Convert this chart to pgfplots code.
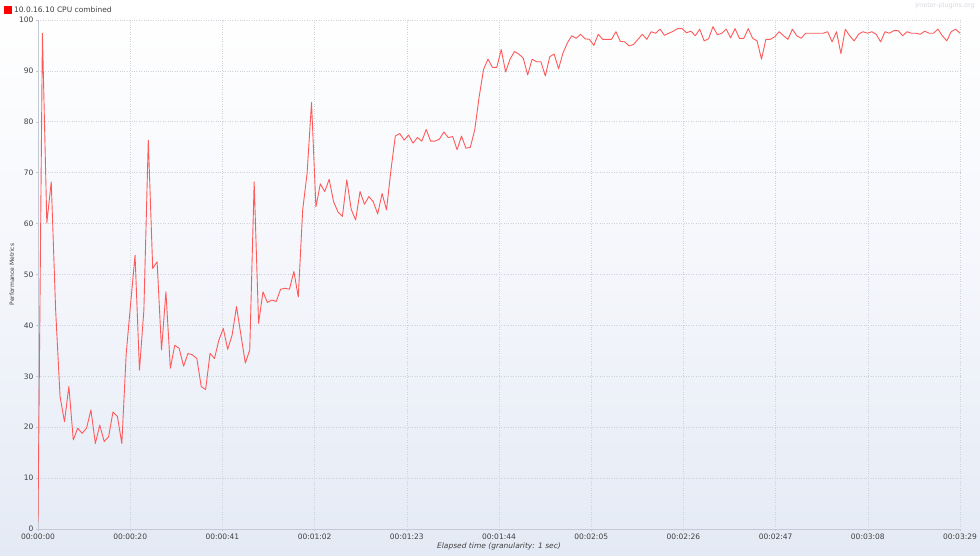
\documentclass[border=0pt]{standalone}
\usepackage{pgfplots}
\pgfplotsset{compat=1.18}
\usepackage{fontspec}
\setmainfont{DejaVu Sans}
\definecolor{cpuline}{RGB}{255,90,90}
\definecolor{bgbottom}{RGB}{228,234,245}
\definecolor{gridc}{RGB}{205,209,218}
\definecolor{axc}{RGB}{196,202,212}
\definecolor{txt}{RGB}{64,64,64}
\begin{document}
\begin{tikzpicture}[x=1pt,y=1pt]
\shade[top color=white, bottom color=bgbottom, middle color={rgb,255:red,244;green,246;blue,251}] (0,0) rectangle (980,555);
\path[use as bounding box] (0,0) rectangle (980,555);
\node[anchor=north east, font=\fontsize{6.5}{7}\selectfont, text={rgb,255:red,215;green,218;blue,225}, inner sep=0] at (975,553) {jmeter-plugins.org};
\begin{axis}[
    at={(38pt,26pt)}, anchor=south west,
    scale only axis, width=922pt, height=509pt,
    xmin=0, xmax=209, ymin=0, ymax=100,
    axis x line*=bottom, axis y line*=left,
    axis line style={axc, -},
    xtick={0,20.9,41.8,62.7,83.6,104.5,125.4,146.3,167.2,188.1,209},
    xticklabels={00:00:00,00:00:20,00:00:41,00:01:02,00:01:23,00:01:44,00:02:05,00:02:26,00:02:47,00:03:08,00:03:29},
    ytick={0,10,...,100},
    tick style={axc, thin}, tick align=outside, major tick length=2pt,
    grid=major, major grid style={gridc, dotted, line width=0.6pt},
    ticklabel style={font=\fontsize{7.5}{8}\selectfont, text=txt},
    /pgf/number format/assume math mode=true,
    yticklabel style={xshift=1pt},
    xticklabel style={yshift=1pt},
    xlabel={\itshape Elapsed time (granularity: 1 sec)},
    xlabel style={at={(axis description cs:0.5,-0.0334)}, anchor=center, font=\fontsize{7.5}{8}\selectfont, text=txt},
    ylabel={Performance Metrics},
    ylabel style={at={(axis description cs:-0.0282,0.5)}, anchor=center, font=\fontsize{6}{7}\selectfont, text=txt},
    legend style={at={(axis description cs:-0.0369,1.031)}, anchor=north west, draw=none, fill=none, inner sep=0pt, font=\fontsize{7.5}{8}\selectfont, text=txt, legend cell align=left},
    legend image code/.code={\fill[red] (0pt,-3.5pt) rectangle (7pt,3.5pt);},
]
\addplot[cpuline, line width=0.9pt, mark=none, line join=round] table {
t v
0 1.4
1 97.4
2 60.1
3 68.2
4 43
5 26
6 21.1
7 28
8 17.5
9 19.8
10 18.8
11 19.8
12 23.4
13 16.8
14 20.4
15 17.2
16 18.1
17 23
18 22.1
19 16.8
20 34.5
21 44.3
22 53.8
23 31.2
24 43
25 76.4
26 51.2
27 52.5
28 35.2
29 46.6
30 31.6
31 36.1
32 35.5
33 32
34 34.5
35 34.2
36 33.5
37 28
38 27.4
39 34.5
40 33.5
41 37.1
42 39.4
43 35.3
44 38.1
45 43.7
46 38.1
47 32.6
48 35.2
49 68.2
50 40.4
51 46.6
52 44.5
53 45
54 44.7
55 47.1
56 47.3
57 47.1
58 50.6
59 45.6
60 62.7
61 69.9
62 83.8
63 63.3
64 67.8
65 66.3
66 68.7
67 64.3
68 62.3
69 61.4
70 68.6
71 62.8
72 60.7
73 66.3
74 63.8
75 65.3
76 64.3
77 61.9
78 65.9
79 62.7
80 70.5
81 77.2
82 77.7
83 76.4
84 77.4
85 75.8
86 76.9
87 76.2
88 78.5
89 76.2
90 76.2
91 76.6
92 78
93 76.9
94 77.1
95 74.5
96 77.2
97 74.8
98 75
99 78.4
100 84.9
101 90.3
102 92.3
103 90.7
104 90.7
105 94.2
106 89.8
107 92.3
108 93.8
109 93.3
110 92.5
111 89.2
112 92.3
113 91.8
114 91.8
115 89
116 92.8
117 93.3
118 90.4
119 93.5
120 95.5
121 96.9
122 96.4
123 97.2
124 96.3
125 96.2
126 95
127 97.2
128 96.2
129 96.2
130 96.2
131 97.7
132 95.8
133 95.7
134 94.9
135 95.2
136 96.2
137 97.2
138 96.2
139 97.7
140 97.4
141 98.2
142 97
143 97.4
144 97.8
145 98.3
146 98.3
147 97.5
148 97.8
149 96.9
150 98.2
151 95.9
152 96.3
153 98.7
154 97.1
155 97.4
156 98.2
157 96.5
158 98.3
159 96.4
160 96.4
161 98.3
162 96.4
163 95.9
164 92.3
165 96.2
166 96.2
167 96.7
168 97.7
169 96.9
170 96.2
171 98.2
172 96.9
173 96.4
174 97.4
175 97.4
176 97.4
177 97.4
178 97.4
179 97.7
180 95.7
181 97.7
182 93.4
183 98.2
184 96.9
185 95.9
186 97.2
187 97.7
188 97.4
189 97.7
190 97.2
191 95.7
192 97.7
193 97.4
194 97.9
195 97.9
196 96.9
197 97.7
198 97.4
199 97.4
200 97.2
201 97.8
202 97.4
203 97.4
204 98.2
205 96.9
206 95.9
207 97.7
208 98.2
209 97.4
};
\addlegendentry{10.0.16.10 CPU combined}
\end{axis}
\end{tikzpicture}
\end{document}
